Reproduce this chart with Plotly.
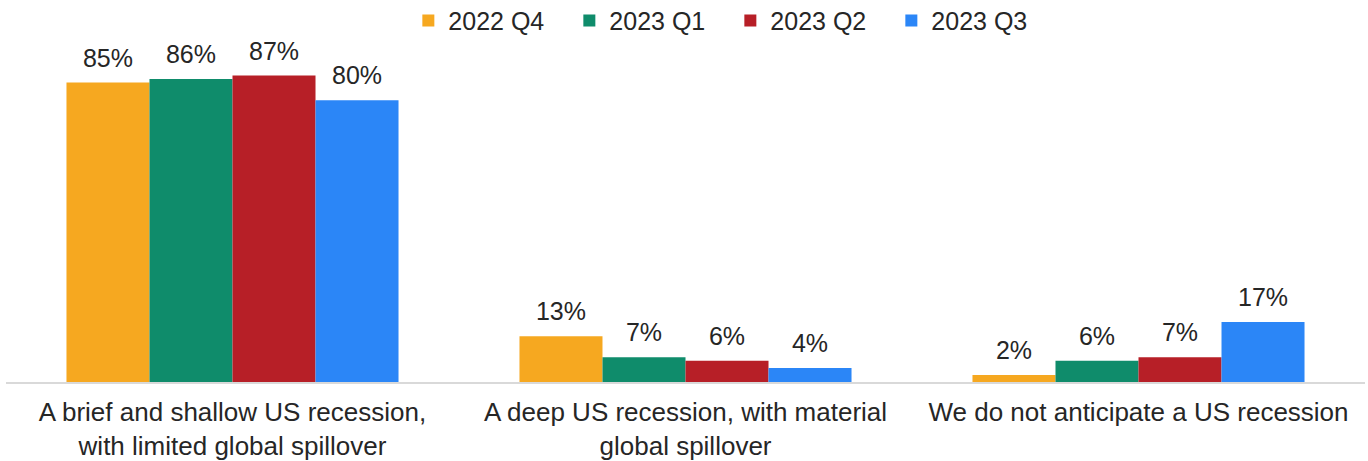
import plotly.graph_objects as go

categories = [
    "A brief and shallow US recession,<br>with limited global spillover",
    "A deep US recession, with material<br>global spillover",
    "We do not anticipate a US recession",
]
series_names = ["2022 Q4", "2023 Q1", "2023 Q2", "2023 Q3"]
values = {
    "2022 Q4": [85, 13, 2],
    "2023 Q1": [86, 7, 6],
    "2023 Q2": [87, 6, 7],
    "2023 Q3": [80, 4, 17],
}
colors = {
    "2022 Q4": "#F6A820",
    "2023 Q1": "#0F8C6B",
    "2023 Q2": "#B71F27",
    "2023 Q3": "#2B86F7",
}

FONT = "Liberation Sans, Arial, sans-serif"

fig = go.Figure()
for name in series_names:
    fig.add_trace(go.Bar(
        name=name,
        x=categories,
        y=values[name],
        marker=dict(color=colors[name], line=dict(width=0)),
        cliponaxis=False,
        hoverinfo="skip",
    ))
for name in series_names:
    fig.add_trace(go.Scatter(
        name=name,
        x=categories,
        y=values[name],
        mode="markers+text",
        marker=dict(size=14, opacity=0, color=colors[name]),
        text=[f"{v}%" for v in values[name]],
        textposition="top center",
        textfont=dict(size=25, color="#262626", family=FONT),
        cliponaxis=False,
        showlegend=False,
        hoverinfo="skip",
    ))

fig.update_layout(
    width=1368, height=461,
    barmode="group",
    bargap=0.267,
    bargroupgap=0,
    scattermode="group",
    scattergap=0.267,
    plot_bgcolor="white",
    paper_bgcolor="white",
    margin=dict(l=6, r=3, t=40, b=79, autoexpand=False),
    font=dict(family=FONT, size=25, color="#262626"),
    legend=dict(
        orientation="h",
        x=0.533, xanchor="center",
        y=1.056, yanchor="middle",
        font=dict(size=25, color="#262626", family=FONT),
        itemwidth=30,
        entrywidth=116,
        entrywidthmode="pixels",
        traceorder="normal",
    ),
    xaxis=dict(
        showgrid=False,
        showline=True,
        linecolor="#D9D9D9",
        linewidth=1.5,
        ticks="",
        tickfont=dict(size=26, color="#262626", family=FONT),
        ticklabelstandoff=6,
        automargin=False,
    ),
    yaxis=dict(
        range=[0, 97.1],
        visible=False,
        showgrid=False,
    ),
    showlegend=True,
)

fig.write_html("out.html", config={"displayModeBar": False},
               post_script="document.body.style.margin='0';")
